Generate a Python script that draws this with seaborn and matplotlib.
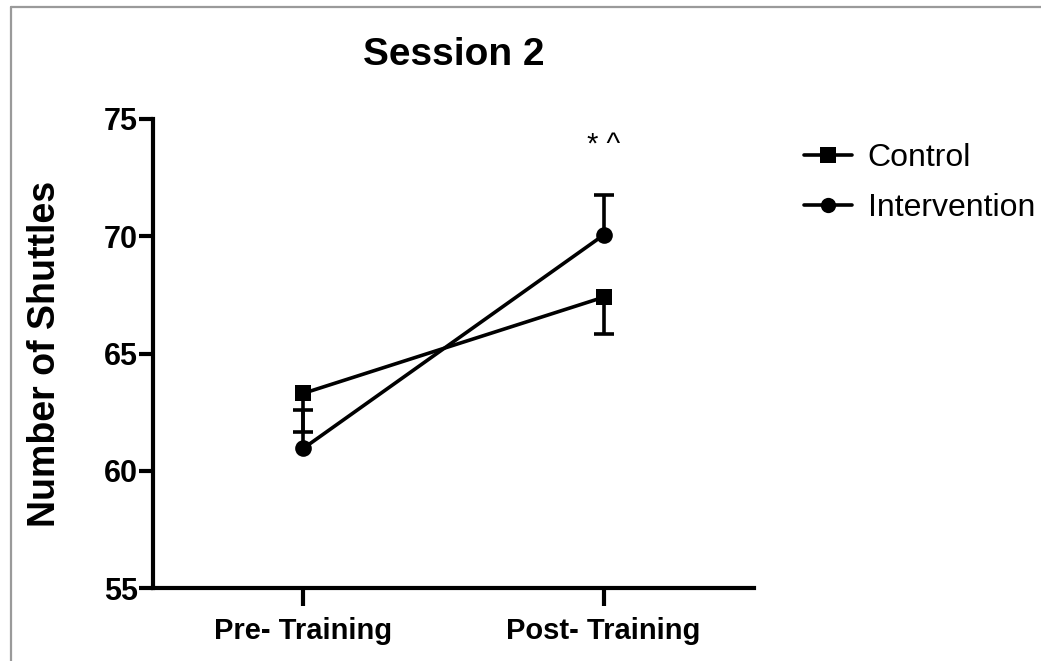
import matplotlib
matplotlib.use("Agg")
import matplotlib.pyplot as plt
import seaborn as sns
import pandas as pd
import numpy as np
from matplotlib.lines import Line2D

# ---- data ----
phases = ["Pre- Training", "Post- Training"]
groups = ["Control", "Intervention"]
control_mean = [63.3, 67.4]
control_sem = [1.65, 1.55]      # drawn downward
intervention_mean = [60.95, 70.05]
intervention_sem = [1.65, 1.7]  # drawn upward
y_ticks = [55, 60, 65, 70, 75]
title = "Session 2"
ylabel = "Number of Shuttles"
annotation = "* ^"

df = pd.DataFrame({
    "phase": phases * 2,
    "group": [groups[0]] * 2 + [groups[1]] * 2,
    "value": control_mean + intervention_mean,
})

sns.set_theme(style="white")
plt.rcParams["font.family"] = ["Liberation Sans", "DejaVu Sans"]
plt.rcParams["text.color"] = "black"
plt.rcParams["axes.labelcolor"] = "black"
plt.rcParams["xtick.color"] = "black"
plt.rcParams["ytick.color"] = "black"

fig = plt.figure(figsize=(10.41, 6.61), dpi=100)
ax = fig.add_axes([0.147, 0.1104, 0.577, 0.7096])

sns.lineplot(data=df, x="phase", y="value", hue="group", style="group",
             palette={"Control": "black", "Intervention": "black"},
             markers={"Control": "s", "Intervention": "o"}, dashes=False,
             markersize=12, linewidth=2.6, markeredgewidth=0, sort=False,
             legend=False, ax=ax)

xpos = np.arange(len(phases))
ctrl_end = np.array(control_mean) - np.array(control_sem)
int_end = np.array(intervention_mean) + np.array(intervention_sem)
ax.vlines(xpos, control_mean, ctrl_end, color="black", lw=2.6, zorder=1)
ax.vlines(xpos, intervention_mean, int_end, color="black", lw=2.6, zorder=1)
ax.plot(xpos, ctrl_end, ls="none", marker="_", markersize=15, mew=2.6, color="black")
ax.plot(xpos, int_end, ls="none", marker="_", markersize=15, mew=2.6, color="black")

ax.set_xlim(-0.5, 1.5)
ax.set_ylim(55, 75)
ax.set_yticks(y_ticks)
ax.set_xticks(xpos)
ax.set_xticklabels(phases, fontsize=21, fontweight="bold")
ax.set_yticklabels([str(t) for t in y_ticks], fontsize=22, fontweight="bold")
ax.set_xlabel("")
ax.set_ylabel(ylabel, fontsize=27, fontweight="bold")
ax.yaxis.set_label_coords(-0.15, 0.5)

for s in ["top", "right"]:
    ax.spines[s].set_visible(False)
for s in ["left", "bottom"]:
    ax.spines[s].set_linewidth(3)
    ax.spines[s].set_color("black")
    ax.spines[s].set_capstyle("projecting")
ax.tick_params(axis="y", direction="out", length=10, width=3, color="black", pad=1, left=True)
ax.tick_params(axis="x", direction="out", length=13, width=3, color="black", pad=8, bottom=True)

ax.set_title(title, fontsize=28, fontweight="bold", pad=39)
ax.text(1, 73.9, annotation, ha="center", va="center", fontsize=21)

handles = [
    Line2D([0], [0], color="black", lw=2.6, marker="s", markersize=11, markeredgewidth=0),
    Line2D([0], [0], color="black", lw=2.6, marker="o", markersize=11, markeredgewidth=0),
]
fig.legend(handles, groups, loc="center left", bbox_to_anchor=(0.76, 0.723),
           frameon=False, fontsize=23, handlelength=1.5, handletextpad=0.5,
           labelspacing=0.65, borderaxespad=0)

# gray frame (top and left edges)
fig.add_artist(Line2D([11 / 1041, 1], [1 - 7 / 661, 1 - 7 / 661], color="#9a9a9a", lw=1.6))
fig.add_artist(Line2D([11 / 1041, 11 / 1041], [0, 1 - 7 / 661], color="#9a9a9a", lw=1.6))

fig.savefig("out.png", dpi=100)
